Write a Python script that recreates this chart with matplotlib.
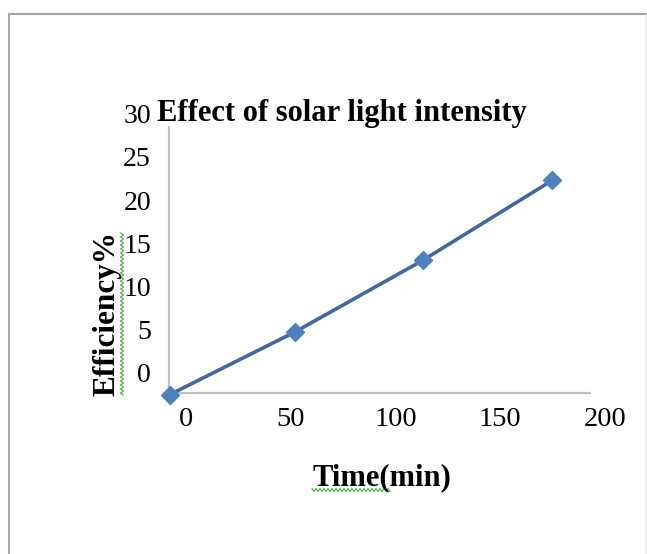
import numpy as np
import matplotlib
matplotlib.use("Agg")
import matplotlib.pyplot as plt
from matplotlib.lines import Line2D

# values
time_min = [-8, 52, 113, 175]
efficiency = [-2.6, 4.7, 13.0, 22.3]
x_ticks = [0, 50, 100, 150, 200]
y_ticks = [0, 5, 10, 15, 20, 25, 30]

W, H = 647, 554
plt.rcParams['font.family'] = ['Liberation Serif', 'DejaVu Serif']

fig = plt.figure(figsize=(W / 100, H / 100), dpi=100)
fig.patch.set_facecolor('white')

def px(x, y):
    # pixel coords (from top-left) -> figure fraction
    return x / W, 1 - y / H

# outer chart border (left, top, right)
bx0, by0 = px(8.5, 13.5)
bx1, _ = px(645.5, 0)
fig.add_artist(Line2D([bx0, bx0], [0, by0], color='#a6a6a6', lw=1.5, transform=fig.transFigure))
fig.add_artist(Line2D([bx0, bx1], [by0, by0], color='#a6a6a6', lw=1.5, transform=fig.transFigure))
fig.add_artist(Line2D([bx1, bx1], [0, by0], color='#e0e0e0', lw=1.0, transform=fig.transFigure))

xmin, xmax = -8.3, 205
ymin, ymax = -2.4, 31
sx, sy = 2.092, 8.614  # px per unit
left, bottom = px(169, 393)
ax = fig.add_axes([left, bottom, (xmax - xmin) * sx / W, (ymax - ymin) * sy / H])
ax.set_xlim(xmin, xmax)
ax.set_ylim(ymin, ymax)
ax.patch.set_alpha(0)

for s in ['top', 'right']:
    ax.spines[s].set_visible(False)
ax.spines['left'].set_bounds(ymin, 28.5)
ax.spines['bottom'].set_bounds(xmin, 192.9)
for s in ['left', 'bottom']:
    ax.spines[s].set_color('#c0c0c0')
    ax.spines[s].set_linewidth(1.6)

ax.set_xticks(x_ticks)
ax.set_yticks(y_ticks)
ax.tick_params(axis='x', length=0, pad=10, labelsize=20.5)
ax.tick_params(axis='y', length=0, pad=13, labelsize=20)

ax.plot(time_min, efficiency, color='#41699c', lw=2.6, marker='D', ms=9.5,
        mfc='#4f81bd', mec='#4f81bd', clip_on=False, zorder=3)

fig.text(*px(157, 114), 'Effect of solar light intensity', fontsize=22,
         fontweight='bold', ha='left', va='center')
fig.text(*px(107, 314), 'Efficiency%', fontsize=22.5, fontweight='bold',
         rotation=90, ha='center', va='center')
fig.text(*px(382, 478), 'Time(min)', fontsize=22, fontweight='bold',
         ha='center', va='center')

# spell-check squiggles
t = np.arange(233, 396, 2.0)
zz = 122 + np.where(np.arange(len(t)) % 2 == 0, -1.5, 1.5)
xs, ys = px(zz, t)
fig.add_artist(Line2D(xs, ys, color='#3cb034', lw=0.8, transform=fig.transFigure))
t = np.arange(312, 391, 2.0)
zz = 490 + np.where(np.arange(len(t)) % 2 == 0, -1.5, 1.5)
xs, ys = px(t, zz)
fig.add_artist(Line2D(xs, ys, color='#3cb034', lw=0.8, transform=fig.transFigure))

fig.savefig('out.png', dpi=100)
